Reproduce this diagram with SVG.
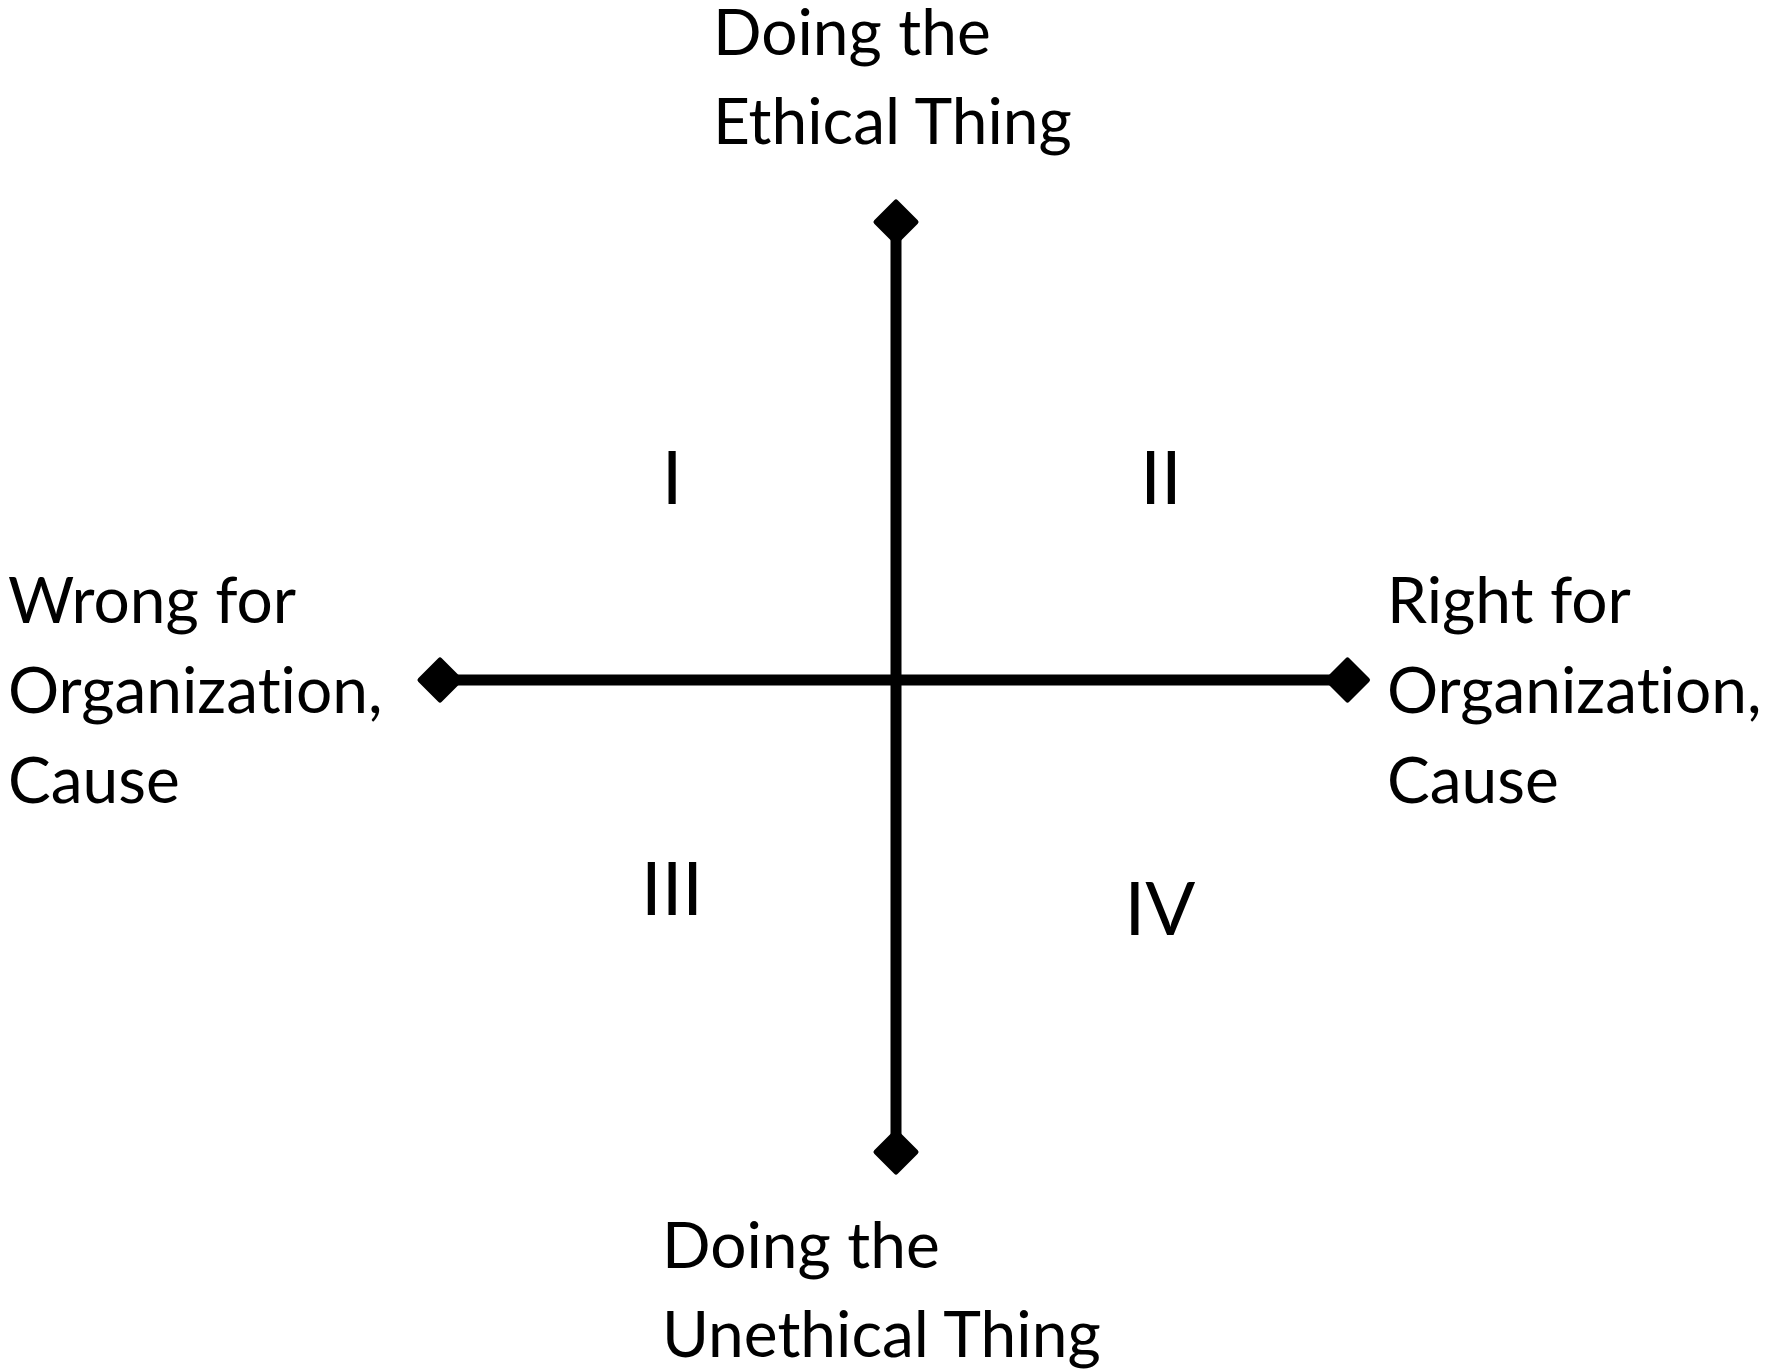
<svg xmlns="http://www.w3.org/2000/svg" width="1768" height="1372" viewBox="0 0 1768 1372">
  <style>
    .lbl { font-family: Lato, "Open Sans", "Liberation Sans", sans-serif; font-size: 64px; fill: #000; font-variant-ligatures: none; }
    .num { font-family: Lato, "Open Sans", "Liberation Sans", sans-serif; font-size: 74px; fill: #000; text-anchor: middle; }
    .axis { stroke: #000; stroke-width: 11; fill: none; marker-start: url(#dia); marker-end: url(#dia); }
  </style>
  <defs>
    <marker id="dia" viewBox="-25 -25 50 50" markerWidth="50" markerHeight="50" refX="0" refY="0" markerUnits="userSpaceOnUse" orient="auto">
      <path d="M0,-20 L20,0 L0,20 L-20,0 Z" fill="#000" stroke="#000" stroke-width="5" stroke-linejoin="round"/>
    </marker>
  </defs>
  <rect width="1768" height="1372" fill="#fff"/>
  <g id="connectors">
    <line class="axis" x1="896" y1="222" x2="896" y2="1152"/>
    <line class="axis" x1="440" y1="680" x2="1347.5" y2="680"/>
  </g>
  <g id="top-label">
    <text class="lbl" x="713" y="55">Doing the</text>
    <text class="lbl" x="713" y="144">Ethical Thing</text>
  </g>
  <g id="bottom-label">
    <text class="lbl" x="662" y="1268">Doing the</text>
    <text class="lbl" x="662" y="1357">Unethical Thing</text>
  </g>
  <g id="left-label">
    <text class="lbl" x="8" y="623">Wrong for</text>
    <text class="lbl" x="8" y="713">Organization,</text>
    <text class="lbl" x="8" y="803">Cause</text>
  </g>
  <g id="right-label">
    <text class="lbl" x="1387" y="623">Right for</text>
    <text class="lbl" x="1387" y="713">Organization,</text>
    <text class="lbl" x="1387" y="803">Cause</text>
  </g>
  <g id="quadrant-I"><text class="num" x="672" y="504">I</text></g>
  <g id="quadrant-II"><text class="num" x="1161" y="504">II</text></g>
  <g id="quadrant-III"><text class="num" x="672" y="915">III</text></g>
  <g id="quadrant-IV"><text class="num" x="1160" y="935">IV</text></g>
</svg>
